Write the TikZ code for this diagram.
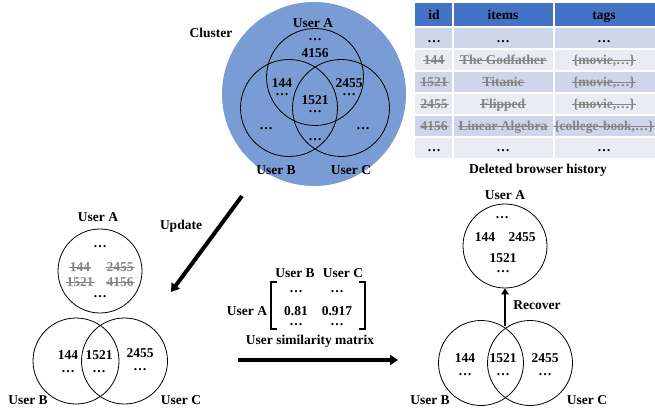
\documentclass[tikz,border=0pt]{standalone}
\usepackage{fontspec}
\setmainfont{Liberation Serif}
\usetikzlibrary{arrows.meta}
\definecolor{clusterblue}{RGB}{121,156,212}
\definecolor{hdrblue}{RGB}{68,114,196}
\definecolor{rowdark}{RGB}{207,213,234}
\definecolor{rowlight}{RGB}{233,235,245}
\definecolor{sgray}{RGB}{132,132,132}
\begin{document}
\begin{tikzpicture}[x=1pt,y=-1pt,
  every node/.style={font=\fontsize{13.5}{15}\selectfont\bfseries, inner sep=0pt},
  ring/.style={draw=black, line width=0.8pt, circle, inner sep=0pt},
  struck/.style={text=sgray, inner xsep=1pt, inner ysep=0pt, text height=9pt, text depth=0pt,
    path picture={\draw[sgray, line width=0.9pt]
      ([yshift=4.3pt]path picture bounding box.south west) --
      ([yshift=4.3pt]path picture bounding box.south east);}},
  cell/.style={anchor=base},
  bigarrow/.style={line width=4pt, -{Triangle[length=8pt,width=10pt]}},
  smallarrow/.style={line width=2.4pt, -{Triangle[length=6pt,width=7.5pt]}},
  bracket/.style={line width=2.2pt}
]
\useasboundingbox (0,0) rectangle (655,411);

% ---------- Cluster ----------
\fill[clusterblue] (314,94) circle[radius=92pt];
\node[ring, minimum size=97pt] (tA) at (315,77) {};
\node[ring, minimum size=97pt] (tB) at (289,108) {};
\node[ring, minimum size=97pt] (tC) at (341,108) {};
\node (cluster) at (211,33) {Cluster};
\node (tlA) at (313,23) {User A};
\node (tlB) at (276,170) {User B};
\node (tlC) at (351,170) {User C};
\node (td1) at (315,40) {…};
\node (t4156) at (315,53) {4156};
\node (t144) at (282,83) {144};
\node (td2) at (282,95) {…};
\node (t2455) at (349,83) {2455};
\node (td3) at (349,95) {…};
\node (t1521) at (315,100) {1521};
\node (td4) at (315,112) {…};
\node (td5) at (266,129) {…};
\node (td6) at (315,140) {…};
\node (td7) at (363,129) {…};

% ---------- Table ----------
\fill[hdrblue] (415,3) rectangle (660,27);
\fill[rowdark] (415,27) rectangle (660,49);
\fill[rowlight] (415,49) rectangle (660,71);
\fill[rowdark] (415,71) rectangle (660,93);
\fill[rowlight] (415,93) rectangle (660,115);
\fill[rowdark] (415,115) rectangle (660,137);
\fill[rowlight] (415,137) rectangle (660,158);
\foreach \yy in {27,49,71,93,115,137} {\draw[white, line width=1.5pt] (415,\yy) -- (660,\yy);}
\foreach \xx in {453,554} {\draw[white, line width=1.5pt] (\xx,3) -- (\xx,158);}
\node[cell] (hid) at (434,19.5) {id};
\node[cell] (hitems) at (503,19.5) {items};
\node[cell] (htags) at (604,19.5) {tags};
\node[cell] (r1a) at (434,42.5) {…};
\node[cell] (r1b) at (503,42.5) {…};
\node[cell] (r1c) at (604,42.5) {…};
\node[cell,struck] (r2a) at (434,64.5) {144};
\node[cell,struck] (r2b) at (503,64.5) {The Godfather};
\node[cell,struck] (r2c) at (604,64.5) {\{movie,…\}};
\node[cell,struck] (r3a) at (434,86.5) {1521};
\node[cell,struck] (r3b) at (503,86.5) {Titanic};
\node[cell,struck] (r3c) at (604,86.5) {\{movie,…\}};
\node[cell,struck] (r4a) at (434,108.5) {2455};
\node[cell,struck] (r4b) at (503,108.5) {Flipped};
\node[cell,struck] (r4c) at (604,108.5) {\{movie,…\}};
\node[cell,struck] (r5a) at (434,130.5) {4156};
\node[cell,struck] (r5b) at (503,130.5) {Linear Algebra};
\node[cell,struck] (r5c) at (604,130.5) {\{college-book,…\}};
\node[cell] (r6a) at (434,152) {…};
\node[cell] (r6b) at (503,152) {…};
\node[cell] (r6c) at (604,152) {…};
\node (caption) at (538,170) {Deleted browser history};

% ---------- Update arrow ----------
\coordinate (upS) at (242,196);
\coordinate (upE) at (171,292);
\draw[bigarrow] (upS) -- (upE);
\node (update) at (181,226) {Update};

% ---------- Bottom-left ----------
\node (blA) at (98,217) {User A};
\node[ring, minimum size=84pt] (lA) at (100,271) {};
\node (ld1) at (100,247) {…};
\node[struck] (l144) at (80,267) {144};
\node[struck] (l2455) at (120,267) {2455};
\node[struck] (l1521) at (80,282) {1521};
\node[struck] (l4156) at (120,282) {4156};
\node (ld2) at (100,297) {…};
\node[ring, minimum size=86pt] (lB) at (76,361) {};
\node[ring, minimum size=86pt] (lC) at (124.5,361) {};
\node (lb144) at (68,355) {144};
\node (lbd1) at (68,372) {…};
\node (lb1521) at (99,355) {1521};
\node (lbd2) at (99,372) {…};
\node (lb2455) at (140,353) {2455};
\node (lbd3) at (140,370) {…};
\node (blB) at (28,400) {User B};
\node (blC) at (181,400) {User C};

% ---------- Matrix ----------
\node (mB) at (295,273) {User B};
\node (mC) at (343,273) {User C};
\node (mA) at (247,311) {User A};
\node (m11) at (296,292) {…};
\node (m12) at (337,292) {…};
\node (m21) at (296,311) {0.81};
\node (m22) at (337,311) {0.917};
\node (m31) at (296,325) {…};
\node (m32) at (337,325) {…};
\draw[bracket] (277,282) -- (271,282) -- (271,329) -- (277,329);
\draw[bracket] (359,282) -- (365,282) -- (365,329) -- (359,329);
\node (mcap) at (310,341) {User similarity matrix};
\coordinate (mS) at (238,360);
\coordinate (mE) at (398,360);
\draw[bigarrow] (mS) -- (mE);

% ---------- Bottom-right ----------
\node (brA) at (505,195) {User A};
\node[ring, minimum size=84pt] (rA) at (505,246) {};
\node (rd1) at (502,218) {…};
\node (r144) at (485,237) {144};
\node (r2455) at (522,237) {2455};
\node (r1521) at (503,258) {1521};
\node (rd2) at (503,272) {…};
\node[ring, minimum size=85pt] (rB) at (481,363) {};
\node[ring, minimum size=85pt] (rC) at (530,363) {};
\coordinate (recS) at (505,326);
\draw[smallarrow] (recS) -- (rA.south);
\node (recover) at (537,305) {Recover};
\node (rb144) at (465,358) {144};
\node (rbd1) at (465,375) {…};
\node (rb1521) at (503,358) {1521};
\node (rbd2) at (503,375) {…};
\node (rb2455) at (545,358) {2455};
\node (rbd3) at (545,375) {…};
\node (brB) at (430,400) {User B};
\node (brC) at (587,400) {User C};
\end{tikzpicture}
\end{document}
